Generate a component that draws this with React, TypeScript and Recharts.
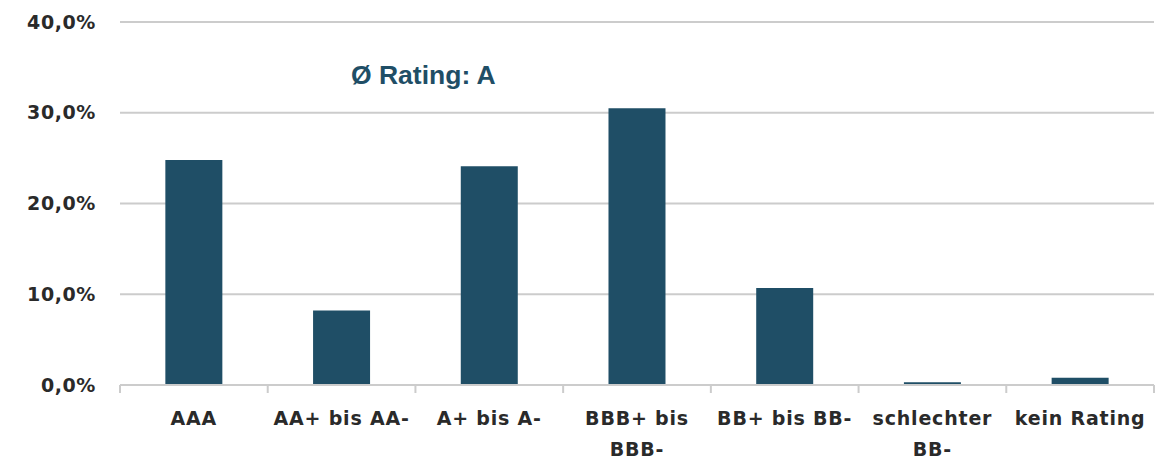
import React from 'react';
import { BarChart, Bar, XAxis, YAxis, CartesianGrid } from 'recharts';

const categories = ['AAA', 'AA+ bis AA-', 'A+ bis A-', 'BBB+ bis\nBBB-', 'BB+ bis BB-', 'schlechter\nBB-', 'kein Rating'];
const shares = [24.8, 8.2, 24.1, 30.5, 10.7, 0.3, 0.8];
const yTicks = [0, 10, 20, 30, 40];
const avgRating = 'Ø Rating: A';

const W = 1161;
const H = 462;
const margin = { top: 22, right: 7, bottom: 7, left: 0 };
const yAxisWidth = 120;
const band = (W - margin.left - margin.right - yAxisWidth) / categories.length;

const barColor = '#1f4e66';
const textColor = '#2a2a2a';
const gridColor = '#cccccc';
const font = '"DejaVu Sans", sans-serif';

const chartData = categories.map((name, i) => ({ name, value: shares[i] }));

const CategoryTick = (props: any) => {
    const { x, y, payload, index } = props;
    const lines = String(payload.value).split('\n');
    const left = x - band / 2;
    return (
        <g>
            <line x1={left} y1={y} x2={left} y2={y + 8} stroke={gridColor} strokeWidth={2} />
            {index === categories.length - 1 && (
                <line x1={x + band / 2} y1={y} x2={x + band / 2} y2={y + 8} stroke={gridColor} strokeWidth={2} />
            )}
            <text
                x={x}
                y={y + 40}
                textAnchor="middle"
                fill={textColor}
                fontFamily={font}
                fontWeight="bold"
                fontSize={19}
                letterSpacing={0.8}
            >
                {lines.map((l, i) => (
                    <tspan key={i} x={x} dy={i === 0 ? 0 : 31}>{l}</tspan>
                ))}
            </text>
        </g>
    );
};

const fmt = (v: number) => v.toFixed(1).replace('.', ',') + '%';

export default function App() {
    return (
        <div style={{ position: 'absolute', left: 0, top: 0, width: W, height: H, background: '#fff' }}>
            <BarChart width={W} height={H} data={chartData} margin={margin} barCategoryGap="30.7%">
                <CartesianGrid vertical={false} stroke={gridColor} strokeWidth={2} />
                <YAxis
                    width={yAxisWidth}
                    domain={[0, 40]}
                    ticks={yTicks}
                    tickFormatter={fmt}
                    axisLine={false}
                    tickLine={false}
                    tickMargin={18}
                    tick={{ fill: textColor, fontFamily: font, fontWeight: 'bold', fontSize: 19, letterSpacing: 0.6 }}
                />
                <XAxis
                    dataKey="name"
                    height={70}
                    interval={0}
                    stroke={gridColor}
                    strokeWidth={2}
                    tickLine={false}
                    tickSize={0}
                    tickMargin={0}
                    tick={<CategoryTick />}
                />
                <Bar dataKey="value" fill={barColor} isAnimationActive={false} />
            </BarChart>
            <svg width={W} height={H} style={{ position: 'absolute', left: 0, top: 0, pointerEvents: 'none' }}>
                <text x={351} y={84} fill={barColor} fontFamily='"Liberation Sans", Arial, sans-serif' fontWeight="bold" fontSize={26.5}>
                    {avgRating}
                </text>
            </svg>
        </div>
    );
}
